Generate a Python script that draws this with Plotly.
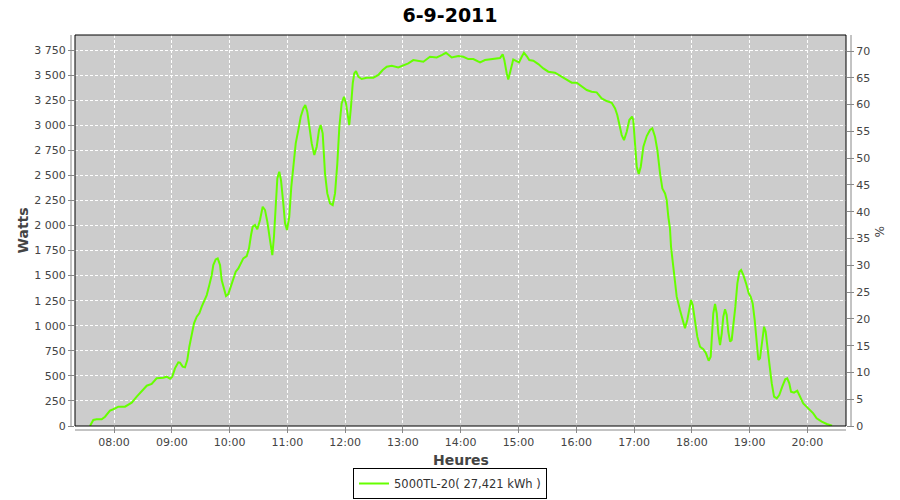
import plotly.graph_objects as go

DAY = "2011-09-06"

times = [
    "07:35:06", "07:38:30", "07:42:00", "07:47:12", "07:50:42", "07:55:48", "07:59:18", "08:04:30",
    "08:11:24", "08:18:24", "08:23:36", "08:28:48", "08:34:00", "08:39:06", "08:44:18", "08:51:12",
    "08:54:42", "08:58:12", "09:00:30", "09:03:18", "09:06:48", "09:08:30", "09:11:18", "09:13:42",
    "09:16:06", "09:18:12", "09:20:42", "09:23:06", "09:25:54", "09:28:36", "09:31:06", "09:33:30",
    "09:36:18", "09:39:00", "09:41:30", "09:43:06", "09:45:36", "09:47:42", "09:50:06", "09:51:48",
    "09:54:12", "09:56:18", "09:58:42", "10:01:12", "10:03:54", "10:06:24", "10:09:06", "10:11:54",
    "10:14:18", "10:17:48", "10:20:12", "10:22:18", "10:24:00", "10:26:24", "10:28:48", "10:31:36",
    "10:34:24", "10:36:48", "10:39:12", "10:42:00", "10:44:24", "10:46:06", "10:48:12", "10:49:36",
    "10:51:36", "10:53:24", "10:55:48", "10:57:36", "10:59:36", "11:02:00", "11:04:06", "11:06:12",
    "11:08:42", "11:11:24", "11:13:54", "11:16:36", "11:18:36", "11:20:42", "11:22:48", "11:25:18",
    "11:28:00", "11:30:30", "11:32:54", "11:34:36", "11:36:42", "11:39:06", "11:41:30", "11:44:18",
    "11:47:06", "11:49:30", "11:51:54", "11:54:00", "11:56:24", "11:58:48", "12:00:54", "12:02:42",
    "12:04:18", "12:06:06", "12:07:54", "12:09:30", "12:11:18", "12:13:42", "12:17:12", "12:22:24",
    "12:29:18", "12:34:30", "12:39:00", "12:43:12", "12:48:24", "12:55:12", "13:00:24", "13:05:36",
    "13:10:48", "13:16:00", "13:21:12", "13:28:06", "13:35:06", "13:40:18", "13:44:42", "13:50:42",
    "13:57:30", "14:02:42", "14:07:54", "14:13:06", "14:20:06", "14:25:12", "14:32:12", "14:40:48",
    "14:43:36", "14:45:18", "14:47:48", "14:49:24", "14:51:54", "14:54:36", "14:57:24", "15:00:36",
    "15:03:24", "15:05:42", "15:08:30", "15:11:12", "15:15:24", "15:20:36", "15:25:48", "15:31:00",
    "15:37:54", "15:43:06", "15:50:06", "15:55:18", "16:00:30", "16:05:42", "16:10:54", "16:16:00",
    "16:21:12", "16:26:24", "16:31:36", "16:36:48", "16:40:18", "16:42:36", "16:45:24", "16:47:12",
    "16:49:36", "16:52:24", "16:55:06", "16:57:54", "16:59:12", "17:01:00", "17:02:48", "17:04:54",
    "17:07:00", "17:09:42", "17:13:12", "17:16:36", "17:19:00", "17:21:48", "17:24:12", "17:27:00",
    "17:29:24", "17:32:12", "17:33:54", "17:35:36", "17:37:18", "17:38:24", "17:40:12", "17:41:48",
    "17:44:18", "17:47:42", "17:50:30", "17:52:54", "17:55:18", "17:57:24", "17:59:12", "18:00:54",
    "18:03:18", "18:05:42", "18:08:30", "18:11:54", "18:14:42", "18:17:30", "18:19:36", "18:21:00",
    "18:22:18", "18:24:06", "18:25:54", "18:27:30", "18:29:18", "18:31:06", "18:32:42", "18:34:30",
    "18:36:12", "18:37:54", "18:39:42", "18:41:24", "18:43:06", "18:45:12", "18:47:18", "18:49:24",
    "18:51:12", "18:53:30", "18:56:18", "18:59:06", "19:01:06", "19:03:12", "19:05:18", "19:07:24",
    "19:09:06", "19:10:48", "19:12:54", "19:15:00", "19:16:42", "19:18:48", "19:20:30", "19:23:00",
    "19:25:24", "19:28:12", "19:30:48", "19:33:54", "19:37:00", "19:39:06", "19:41:12", "19:43:00",
    "19:46:06", "19:49:30", "19:52:18", "19:55:42", "20:00:54", "20:06:06", "20:09:36", "20:14:54",
    "20:20:06", "20:24:12", "20:25:36",
]

watts = [
    0, 60, 67, 67, 93, 153, 167, 193,
    193, 233, 293, 349, 402, 419, 476, 482,
    492, 472, 492, 575, 635, 632, 592, 585,
    658, 791, 924, 1024, 1090, 1124, 1190, 1240,
    1306, 1406, 1506, 1606, 1662, 1672, 1606, 1456,
    1356, 1297, 1316, 1389, 1489, 1539, 1572, 1629,
    1672, 1695, 1772, 1905, 1988, 2005, 1962, 2054,
    2187, 2154, 2038, 1855, 1705, 1888, 2254, 2470,
    2536, 2453, 2221, 2021, 1955, 2087, 2386, 2620,
    2819, 2952, 3085, 3168, 3201, 3135, 2985, 2819,
    2703, 2786, 2952, 3002, 2919, 2520, 2320, 2221,
    2204, 2320, 2620, 2985, 3218, 3284, 3218, 3102,
    3002, 3185, 3418, 3517, 3540, 3484, 3461, 3474,
    3474, 3501, 3550, 3583, 3593, 3577, 3600, 3617,
    3650, 3643, 3633, 3683, 3676, 3700, 3723, 3676,
    3690, 3683, 3660, 3660, 3627, 3650, 3660, 3670,
    3707, 3650, 3517, 3457, 3550, 3657, 3643, 3627,
    3683, 3723, 3690, 3650, 3643, 3610, 3567, 3534,
    3524, 3494, 3450, 3424, 3424, 3384, 3351, 3334,
    3328, 3268, 3241, 3224, 3168, 3102, 2985, 2902,
    2852, 2935, 3052, 3085, 3052, 2786, 2586, 2513,
    2586, 2786, 2892, 2952, 2969, 2885, 2753, 2520,
    2370, 2320, 2254, 2087, 1971, 1788, 1622, 1456,
    1290, 1157, 1057, 974, 1057, 1190, 1257, 1207,
    1057, 891, 791, 765, 725, 651, 691, 891,
    1124, 1217, 1124, 924, 808, 924, 1090, 1164,
    1107, 940, 841, 858, 990, 1190, 1423, 1539,
    1556, 1506, 1423, 1323, 1290, 1223, 1057, 825,
    658, 675, 825, 990, 940, 791, 625, 425,
    292, 276, 309, 392, 466, 476, 425, 342,
    332, 352, 292, 226, 176, 126, 77, 43,
    20, 7, 2,
]

title_text = "6-9-2011"
series_name = "5000TL-20( 27,421 kWh )"
x_title = "Heures"
y_title = "Watts"
y2_title = "%"
x_ticks = ["08:00", "09:00", "10:00", "11:00", "12:00", "13:00", "14:00",
           "15:00", "16:00", "17:00", "18:00", "19:00", "20:00"]
x_start, x_end = "07:19:30", "20:40:06"
w_max, pct_max = 3900, 73

xs = [f"{DAY} {t}" for t in times]
FONT = "DejaVu Sans"
TXT = "#444444"
AX = "#888888"
W, H = 900, 500

fig = go.Figure()
fig.add_trace(go.Scatter(
    x=xs, y=watts, mode="lines", name=series_name,
    line=dict(color="#66FF00", width=2), yaxis="y", showlegend=True,
))
# invisible companion on secondary axis (percent scale)
fig.add_trace(go.Scatter(
    x=xs, y=[w * pct_max / w_max for w in watts], mode="lines",
    line=dict(width=0), opacity=0, yaxis="y2", showlegend=False, hoverinfo="skip",
))

fig.update_layout(
    width=W, height=H, autosize=False,
    margin=dict(l=75, r=54, t=35, b=74, autoexpand=False),
    paper_bgcolor="white", plot_bgcolor="#CCCCCC",
    separators=", ",
    font=dict(family=FONT, size=11, color=TXT),
    title=dict(text=f"<b>{title_text}</b>", x=0.5, xref="container", xanchor="center",
               y=1 - 15 / H, yanchor="middle", yref="container",
               font=dict(family=FONT, size=19, color="black")),
    xaxis=dict(
        type="date", range=[f"{DAY} {x_start}", f"{DAY} {x_end}"],
        tickvals=[f"{DAY} {t}:00" for t in x_ticks], ticktext=x_ticks,
        showgrid=True, gridcolor="white", griddash="3px,2px", gridwidth=1,
        ticks="outside", ticklen=6, tickcolor=AX, showline=False, zeroline=False,
        tickfont=dict(family=FONT, size=11, color=TXT), automargin=False,
    ),
    yaxis=dict(
        range=[0, w_max], tick0=0, dtick=250, tickformat=",d",
        showgrid=True, gridcolor="white", griddash="3px,2px", gridwidth=1,
        ticks="outside", ticklen=6, tickcolor=AX, showline=False, zeroline=False,
        tickfont=dict(family=FONT, size=11, color=TXT), automargin=False,
    ),
    yaxis2=dict(
        overlaying="y", side="right", range=[0, pct_max], tick0=0, dtick=5,
        showgrid=False, zeroline=False, showline=False,
        ticks="outside", ticklen=7, tickcolor=AX, automargin=False,
        tickfont=dict(family=FONT, size=11, color=TXT),
    ),
    legend=dict(
        orientation="h", x=450 / W, xanchor="center", xref="container",
        y=1 - 499 / H, yanchor="bottom", yref="container",
        bordercolor="black", borderwidth=1, bgcolor="white",
        font=dict(family=FONT, size=11.5, color="#333333"),
        itemwidth=30,
    ),
    annotations=[
        dict(text=f"<b>{x_title}</b>", xref="paper", yref="paper",
             x=0.5, y=-(460 - 426) / 391, xanchor="center", yanchor="middle",
             showarrow=False, font=dict(family=FONT, size=14, color=TXT)),
        dict(text=f"<b>{y_title}</b>", xref="paper", yref="paper",
             x=-(75 - 22) / 771, y=0.5, xanchor="center", yanchor="middle",
             textangle=-90, showarrow=False, font=dict(family=FONT, size=14, color=TXT)),
        dict(text=y2_title, xref="paper", yref="paper",
             x=1 + (879 - 846) / 771, y=(426 - 231) / 391, xanchor="center", yanchor="middle",
             textangle=90, showarrow=False, font=dict(family=FONT, size=12, color=TXT)),
    ],
    shapes=[
        dict(type="rect", xref="paper", yref="paper", x0=0, x1=1, y0=0, y1=1,
             line=dict(color="black", width=1), layer="above"),
        dict(type="line", xref="paper", yref="paper", x0=0, x1=1,
             ysizemode="pixel", yanchor=0, y0=-4, y1=-4,
             line=dict(color=AX, width=1)),
        dict(type="line", xref="paper", yref="paper", y0=0, y1=1,
             xsizemode="pixel", xanchor=0, x0=-4, x1=-4,
             line=dict(color=AX, width=1)),
        dict(type="line", xref="paper", yref="paper", y0=0, y1=1,
             xsizemode="pixel", xanchor=1, x0=5, x1=5,
             line=dict(color=AX, width=1)),
    ],
)

fig.write_html("out.html", config={"displayModeBar": False},
               post_script="document.body.style.margin='0';document.body.style.overflow='hidden';")
